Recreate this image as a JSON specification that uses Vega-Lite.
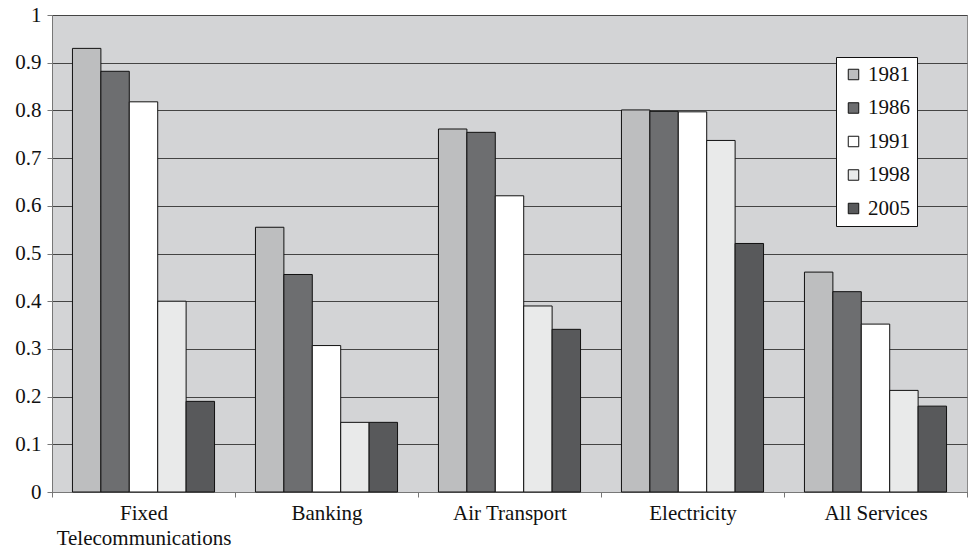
{
  "$schema": "https://vega.github.io/schema/vega-lite/v6.json",
  "width": 915,
  "height": 477,
  "autosize": "none",
  "padding": {"left": 52, "top": 15, "right": 3, "bottom": 58},
  "background": "white",
  "config": {
    "font": "Liberation Serif",
    "view": {"fill": "#d3d4d6", "stroke": "#8a8a8a", "strokeWidth": 1}
  },
  "data": {
    "values": [
      {"sector": "Fixed Telecommunications", "year": "1981", "value": 0.93},
      {"sector": "Fixed Telecommunications", "year": "1986", "value": 0.882},
      {"sector": "Fixed Telecommunications", "year": "1991", "value": 0.818},
      {"sector": "Fixed Telecommunications", "year": "1998", "value": 0.4},
      {"sector": "Fixed Telecommunications", "year": "2005", "value": 0.19},
      {"sector": "Banking", "year": "1981", "value": 0.555},
      {"sector": "Banking", "year": "1986", "value": 0.456},
      {"sector": "Banking", "year": "1991", "value": 0.307},
      {"sector": "Banking", "year": "1998", "value": 0.146},
      {"sector": "Banking", "year": "2005", "value": 0.146},
      {"sector": "Air Transport", "year": "1981", "value": 0.761},
      {"sector": "Air Transport", "year": "1986", "value": 0.754},
      {"sector": "Air Transport", "year": "1991", "value": 0.621},
      {"sector": "Air Transport", "year": "1998", "value": 0.39},
      {"sector": "Air Transport", "year": "2005", "value": 0.341},
      {"sector": "Electricity", "year": "1981", "value": 0.801},
      {"sector": "Electricity", "year": "1986", "value": 0.798},
      {"sector": "Electricity", "year": "1991", "value": 0.797},
      {"sector": "Electricity", "year": "1998", "value": 0.737},
      {"sector": "Electricity", "year": "2005", "value": 0.521},
      {"sector": "All Services", "year": "1981", "value": 0.461},
      {"sector": "All Services", "year": "1986", "value": 0.42},
      {"sector": "All Services", "year": "1991", "value": 0.352},
      {"sector": "All Services", "year": "1998", "value": 0.213},
      {"sector": "All Services", "year": "2005", "value": 0.18}
    ]
  },
  "mark": {"type": "bar", "stroke": "#111111", "strokeWidth": 1},
  "encoding": {
    "x": {
      "field": "sector",
      "type": "nominal",
      "sort": null,
      "scale": {"paddingInner": 0, "paddingOuter": 0},
      "axis": {
        "title": null,
        "labelAngle": 0,
        "labelFont": "Liberation Serif",
        "labelFontSize": 21,
        "labelColor": "#111111",
        "labelPadding": 5,
        "labelLineHeight": 25,
        "labelExpr": "datum.value == 'Fixed Telecommunications' ? ['Fixed', 'Telecommunications'] : datum.label",
        "tickBand": "extent",
        "tickSize": 5,
        "tickColor": "#777777",
        "domainColor": "#777777",
        "grid": false
      }
    },
    "xOffset": {
      "field": "year",
      "type": "nominal",
      "scale": {"paddingInner": 0, "paddingOuter": 0.72}
    },
    "y": {
      "field": "value",
      "type": "quantitative",
      "scale": {"domain": [0, 1], "nice": false},
      "axis": {
        "title": null,
        "values": [0, 0.1, 0.2, 0.3, 0.4, 0.5, 0.6, 0.7, 0.8, 0.9, 1],
        "format": ".1~f",
        "labelFont": "Liberation Serif",
        "labelFontSize": 21,
        "labelColor": "#111111",
        "labelPadding": 6,
        "tickSize": 5,
        "tickColor": "#777777",
        "domainColor": "#777777",
        "grid": true,
        "gridColor": "#444444",
        "gridWidth": 1
      }
    },
    "fill": {
      "field": "year",
      "type": "nominal",
      "scale": {
        "domain": ["1981", "1986", "1991", "1998", "2005"],
        "range": ["#bdbebf", "#6d6e70", "#ffffff", "#e9eaea", "#58595b"]
      },
      "legend": {
        "title": null,
        "orient": "none",
        "legendX": 784,
        "legendY": 42,
        "fillColor": "white",
        "strokeColor": "#111111",
        "padding": 7,
        "labelFont": "Liberation Serif",
        "labelFontSize": 21,
        "labelColor": "#111111",
        "labelOffset": 4,
        "rowPadding": 11.5,
        "symbolType": "square",
        "symbolSize": 110,
        "symbolStrokeColor": "#111111",
        "symbolStrokeWidth": 1
      }
    }
  }
}
